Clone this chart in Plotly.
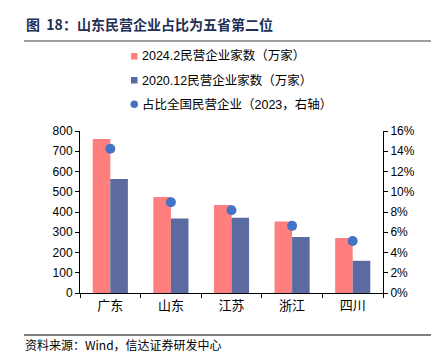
import plotly.graph_objects as go

provinces = ["广东", "山东", "江苏", "浙江", "四川"]
firms_2024_2 = [760, 474, 435, 353, 272]
firms_2020_12 = [563, 368, 371, 277, 159]
share_2023 = [0.1425, 0.0897, 0.0818, 0.0663, 0.0513]

left_ticks = list(range(0, 801, 100))
right_ticks = [i / 100 for i in range(0, 17, 2)]

name_a = "2024.2民营企业家数（万家）"
name_b = "2020.12民营企业家数（万家）"
name_c = "占比全国民营企业（2023，右轴）"

RED = "#FF7F7F"
BLUE = "#5B6BA2"
DOT = "#4472C4"
FONT = "Liberation Sans, Arial, Noto Sans CJK SC"

fig = go.Figure()
fig.add_trace(go.Bar(x=provinces, y=firms_2024_2, name=name_a, marker=dict(color=RED, line=dict(width=0)), showlegend=False))
fig.add_trace(go.Bar(x=provinces, y=firms_2020_12, name=name_b, marker=dict(color=BLUE, line=dict(width=0)), showlegend=False))
fig.add_trace(go.Scatter(x=provinces, y=share_2023, name=name_c, mode="markers", yaxis="y2",
                         marker=dict(color=DOT, size=10, line=dict(width=0)), showlegend=False))

fig.update_layout(
    width=439, height=357,
    margin=dict(l=72, r=64, t=123, b=72),
    paper_bgcolor="white", plot_bgcolor="white",
    barmode="group", bargap=0.42, bargroupgap=0,
    font=dict(family=FONT, size=12, color="#000000"),
    xaxis=dict(showline=True, linecolor="black", linewidth=1, ticks="outside", ticklen=4, tickcolor="black",
               tickson="boundaries", showgrid=False, tickfont=dict(size=13, family="Noto Sans CJK SC")),
    yaxis=dict(range=[0, 800], tickvals=left_ticks, showline=True, linecolor="black", linewidth=1,
               ticks="outside", ticklen=4, tickcolor="black", showgrid=False, zeroline=False,
               tickfont=dict(size=12)),
    yaxis2=dict(range=[0, 0.16], tickvals=right_ticks, tickformat=".0%", overlaying="y", side="right",
                showline=True, linecolor="black", linewidth=1, ticks="outside", ticklen=4, tickcolor="black",
                showgrid=False, zeroline=False, tickfont=dict(size=12)),
)


def px_x(x):
    return (x - 72) / 303.0


def px_y(y):
    return (285 - y) / 162.0


shapes = [
    dict(type="line", xref="paper", yref="paper", x0=px_x(16), x1=px_x(431), y0=px_y(33), y1=px_y(33),
         line=dict(color="#7f7f7f", width=1.5)),
    dict(type="line", xref="paper", yref="paper", x0=px_x(16), x1=px_x(431), y0=px_y(327), y1=px_y(327),
         line=dict(color="#000000", width=1)),
    dict(type="rect", xref="paper", yref="paper", x0=px_x(123), x1=px_x(129.5), y0=px_y(45), y1=px_y(51.5),
         fillcolor=RED, line=dict(width=0)),
    dict(type="rect", xref="paper", yref="paper", x0=px_x(123), x1=px_x(129.5), y0=px_y(69), y1=px_y(75.5),
         fillcolor=BLUE, line=dict(width=0)),
    dict(type="circle", xref="paper", yref="paper", x0=px_x(122.5), x1=px_x(130), y0=px_y(92.5), y1=px_y(100),
         fillcolor=DOT, line=dict(width=0)),
]

annotations = [
    dict(text="<b>图  18：山东民营企业占比为五省第二位</b>", xref="paper", yref="paper", x=px_x(16), y=px_y(16),
         xanchor="left", yanchor="middle", showarrow=False,
         font=dict(size=14, color="#1F2F55", family="Noto Sans CJK SC")),
    dict(text=name_a, xref="paper", yref="paper", x=px_x(132), y=px_y(48), xanchor="left", yanchor="middle",
         showarrow=False, font=dict(size=12.5, family=FONT)),
    dict(text=name_b, xref="paper", yref="paper", x=px_x(132), y=px_y(72.5), xanchor="left", yanchor="middle",
         showarrow=False, font=dict(size=12.5, family=FONT)),
    dict(text=name_c, xref="paper", yref="paper", x=px_x(132), y=px_y(96.5), xanchor="left", yanchor="middle",
         showarrow=False, font=dict(size=12.5, family=FONT)),
    dict(text="资料来源：Wind，信达证券研发中心", xref="paper", yref="paper", x=px_x(15), y=px_y(336),
         xanchor="left", yanchor="middle", showarrow=False,
         font=dict(size=12, color="#000000", family="Noto Sans CJK SC")),
]

fig.update_layout(shapes=shapes, annotations=annotations)
fig.write_html("out.html")
